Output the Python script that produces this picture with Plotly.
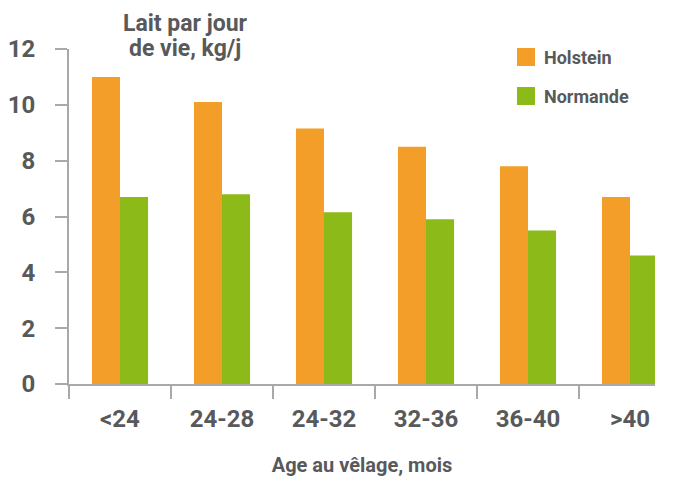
import plotly.graph_objects as go

categories = ["<24", "24-28", "24-32", "32-36", "36-40", ">40"]
holstein = [11.0, 10.1, 9.15, 8.5, 7.8, 6.7]
normande = [6.7, 6.8, 6.15, 5.9, 5.5, 4.6]
series_names = ["Holstein", "Normande"]
colors = ["#F39E29", "#8CBA18"]
y_ticks = [0, 2, 4, 6, 8, 10, 12]
title_lines = ["Lait par jour", "de vie, kg/j"]

TXT = "#58595B"
AX = "#A7A9AC"
FONT = "Roboto"

fig = go.Figure()
for name, vals, col in zip(series_names, [holstein, normande], colors):
    fig.add_trace(go.Bar(x=categories, y=vals, name=name, marker_color=col,
                         marker_line_width=0, showlegend=False))

OFF = 8  # page body margin
W, H = 676, 479
l, t = 69 - OFF, 49 - OFF
pw, ph = 586, 335
r = W - l - pw
b = H - t - ph

def px(x):
    return (x - OFF - l) / pw

def py(y):
    return (t + ph - (y - OFF)) / ph

fig.update_layout(
    width=W, height=H,
    margin=dict(l=l, r=r, t=t, b=b, autoexpand=False),
    plot_bgcolor="white", paper_bgcolor="white",
    barmode="group", bargap=0.45, bargroupgap=0,
    font=dict(family=FONT, color=TXT, size=20, weight=700),
    xaxis=dict(
        type="category", range=[-0.5, 5.245], automargin=False,
        showline=True, linecolor=AX, linewidth=2,
        ticks="outside", tickson="boundaries", ticklen=13, tickcolor=AX, tickwidth=2,
        ticklabelstandoff=12,
        tickfont=dict(size=24, color=TXT, family=FONT, weight=700),
        showgrid=False, zeroline=False,
        title=dict(text="Age au vêlage, mois", standoff=26,
                   font=dict(size=20, color=TXT, family=FONT, weight=700)),
    ),
    yaxis=dict(
        range=[0, 12], tickvals=y_ticks, automargin=False,
        showline=True, linecolor=AX, linewidth=2,
        ticks="outside", ticklen=12, tickcolor=AX, tickwidth=2,
        ticklabelstandoff=15,
        tickfont=dict(size=24, color=TXT, family=FONT, weight=700),
        showgrid=False, zeroline=False,
    ),
)

for i, line in enumerate(title_lines):
    fig.add_annotation(xref="paper", yref="paper", x=px(185), y=py(23 + i * 25),
                       text=line, showarrow=False,
                       xanchor="center", yanchor="middle", align="center",
                       font=dict(size=23, color=TXT, family=FONT, weight=700))

for i, (name, col) in enumerate(zip(series_names, colors)):
    y0 = 48 + i * 39
    fig.add_shape(type="rect", xref="paper", yref="paper",
                  x0=px(517), x1=px(535), y0=py(y0 + 18), y1=py(y0),
                  fillcolor=col, line_width=0)
    fig.add_annotation(xref="paper", yref="paper", x=px(542), y=py(y0 + 9),
                       text=name, showarrow=False, xanchor="left", yanchor="middle",
                       font=dict(size=18, color=TXT, family=FONT, weight=700))

fig.write_html("out.html")
